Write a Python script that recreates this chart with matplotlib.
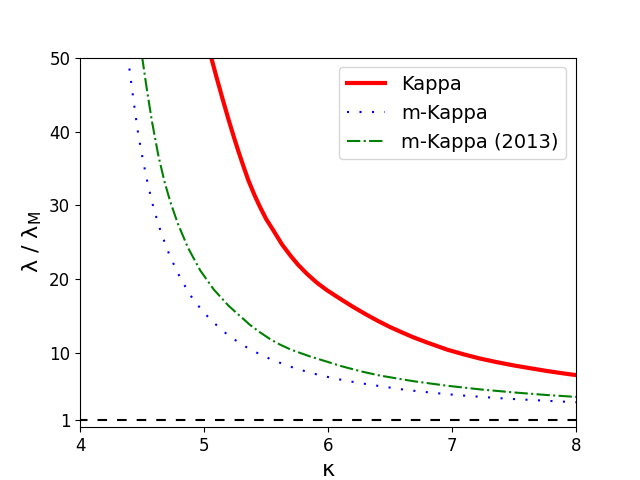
import matplotlib
matplotlib.use("Agg")
import matplotlib.pyplot as plt

# values
kappa_k = [5.055, 5.10, 5.15, 5.20, 5.24, 5.28, 5.32, 5.36, 5.41, 5.45, 5.50, 5.56,
           5.63, 5.70, 5.76, 5.83, 5.91, 5.99, 6.10, 6.20, 6.30, 6.40, 6.50, 6.60,
           6.69, 6.80, 6.96, 7.10, 7.23, 7.37, 7.50, 7.63, 7.76, 7.88, 8.0]
lam_k = [50.2, 47.4, 44.4, 41.5, 39.3, 37.2, 35.2, 33.3, 31.3, 29.85, 28.2, 26.6,
         24.7, 23.15, 21.95, 20.75, 19.55, 18.55, 17.35, 16.3, 15.32, 14.4, 13.55, 12.8,
         12.15, 11.45, 10.5, 9.83, 9.27, 8.77, 8.35, 7.98, 7.62, 7.32, 7.05]

kappa_m = [4.385, 4.417, 4.444, 4.47, 4.508, 4.548, 4.597, 4.656, 4.726, 4.814,
           4.919, 5.054, 5.204, 5.373, 5.556, 5.747, 5.94, 6.14, 6.34, 6.634,
           6.836, 7.037, 7.239, 7.44, 7.642, 7.844, 8.0]
lam_m = [50.2, 46.1, 42.7, 39.6, 36.1, 32.8, 29.4, 26.2, 23.1, 20.0,
         17.1, 14.5, 12.3, 10.5, 9.05, 7.9, 7.0, 6.3, 5.75, 5.03,
         4.67, 4.35, 4.1, 3.86, 3.68, 3.5, 3.38]

kappa_m13 = [4.50, 4.54, 4.58, 4.63, 4.68, 4.73, 4.79, 4.87, 4.97, 5.08,
             5.20, 5.37, 5.45, 5.53, 5.61, 5.70, 5.85, 6.0, 6.12, 6.28, 6.42, 6.69,
             6.96, 7.23, 7.50, 7.76, 8.0]
lam_m13 = [50.2, 45.6, 41.4, 36.9, 33.3, 30.4, 27.5, 24.3, 21.2, 18.6,
           16.4, 13.85, 12.85, 11.95, 11.2, 10.5, 9.6, 8.82, 8.2, 7.5, 6.98, 6.22,
           5.61, 5.11, 4.7, 4.36, 4.1]

y_ticks = [1, 10, 20, 30, 40, 50]
x_ticks = [4, 5, 6, 7, 8]

fig, ax = plt.subplots(figsize=(6.4, 4.8), dpi=100)
ax.plot(kappa_k, lam_k, color="red", lw=3, label="Kappa")
ax.plot(kappa_m, lam_m, color="blue", ls=(0, (1, 5)), lw=1.5, label="m-Kappa")
ax.plot(kappa_m13, lam_m13, color="green", ls="-.", lw=1.5, label="m-Kappa (2013)")
ax.axhline(1, color="black", ls=(1, (4.6, 4.8)), lw=1.5)

ax.set_xlim(4, 8)
ax.set_ylim(0, 50)
ax.set_xticks(x_ticks)
ax.set_yticks(y_ticks)
ax.tick_params(labelsize=12)
ax.set_xlabel("κ", fontsize=16)
ax.set_ylabel(r"λ / λ$_\mathregular{M}$", fontsize=16)
ax.legend(fontsize=14, loc="upper right")

fig.savefig("out.png")
